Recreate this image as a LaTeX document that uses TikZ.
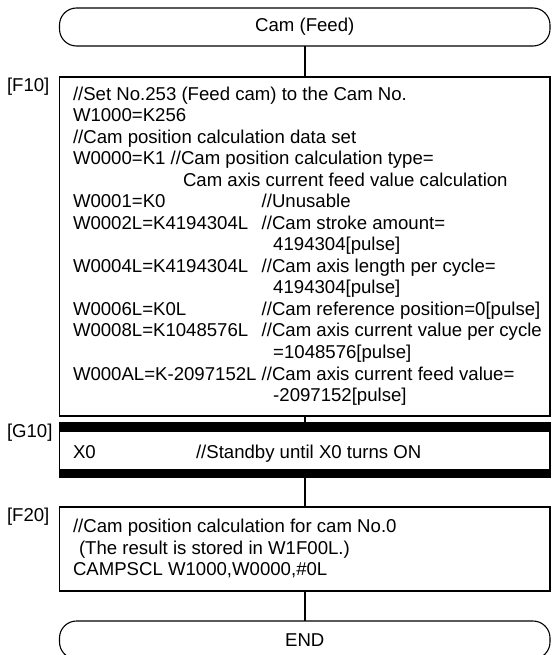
\documentclass[tikz,border=0pt]{standalone}
\usepackage{fontspec}
\setmainfont{Liberation Sans}
\newlength\ccol
\newcommand\tcol[2]{\hbox{\makebox[\ccol][l]{#1}#2}}
\begin{document}
\begin{tikzpicture}[x=1pt,y=-1pt,
  every node/.style={font=\fontsize{18.6}{21.5}\selectfont, inner sep=0pt, outer sep=0pt},
  term/.style={draw, line width=1.1pt, rounded corners=17pt, minimum width=490.5pt, minimum height=38pt, anchor=north west},
  procbox/.style={draw, line width=1.1pt, anchor=north west, minimum width=490.5pt},
  conn/.style={line width=1.6pt},
  lbl/.style={anchor=west},
  txt/.style={anchor=base west}
]
\clip (0,0) rectangle (551,655);

% start terminal
\node[term] (cam) at (59.5,8) {};
\node (camtxt) at (cam.center) {Cam (Feed)};

% F10
\node[procbox, minimum height=339pt] (f10) at (59.5,77) {};
\node[lbl] (lf10) at (7,87) {[F10]};
\node[txt] (f10txt) at (73,100.5) {\settowidth{\ccol}{W000AL=K-2097152L\ }\vtop{%
\hbox{//Set No.253 (Feed cam) to the Cam No.}
\hbox{W1000=K256}
\hbox{//Cam position calculation data set}
\hbox{W0000=K1 //Cam position calculation type=}
\hbox{\hspace*{110pt}Cam axis current feed value calculation}
\tcol{W0001=K0}{//Unusable}
\tcol{W0002L=K4194304L}{//Cam stroke amount=}
\tcol{}{\hspace*{11.5pt}4194304[pulse]}
\tcol{W0004L=K4194304L}{//Cam axis length per cycle=}
\tcol{}{\hspace*{11.5pt}4194304[pulse]}
\tcol{W0006L=K0L}{//Cam reference position=0[pulse]}
\tcol{W0008L=K1048576L}{//Cam axis current value per cycle}
\tcol{}{\hspace*{11.5pt}=1048576[pulse]}
\tcol{W000AL=K-2097152L}{//Cam axis current feed value=}
\tcol{}{\hspace*{11.5pt}-2097152[pulse]}}};

% G10
\node[draw, line width=1.1pt, anchor=north west, minimum width=490.5pt, minimum height=54pt] (g10) at (59.5,423) {};
\fill (g10.north west) rectangle ([yshift=-9pt]g10.north east);
\fill (g10.south west) rectangle ([yshift=8.5pt]g10.south east);
\node[lbl] (lg10) at (7,433) {[G10]};
\node[txt] (g10a) at (73,458.5) {X0};
\node[txt] (g10b) at (196,458.5) {//Standby until X0 turns ON};

% F20
\node[procbox, minimum height=84pt] (f20) at (59.5,507) {};
\node[lbl] (lf20) at (7,517) {[F20]};
\node[txt] (f20txt) at (73,532.5) {\vtop{%
\hbox{//Cam position calculation for cam No.0}
\hbox{\hspace*{6pt}(The result is stored in W1F00L.)}
\hbox{CAMPSCL W1000,W0000,\#0L}}};

% end terminal
\node[term] (end) at (59.5,621) {};
\node (endtxt) at (end.center) {END};

% connectors
\draw[conn] (cam.south) -- (f10.north);
\draw[conn] (f10.south) -- (g10.north);
\draw[conn] (g10.south) -- (f20.north);
\draw[conn] (f20.south) -- (end.north);
\end{tikzpicture}
\end{document}
